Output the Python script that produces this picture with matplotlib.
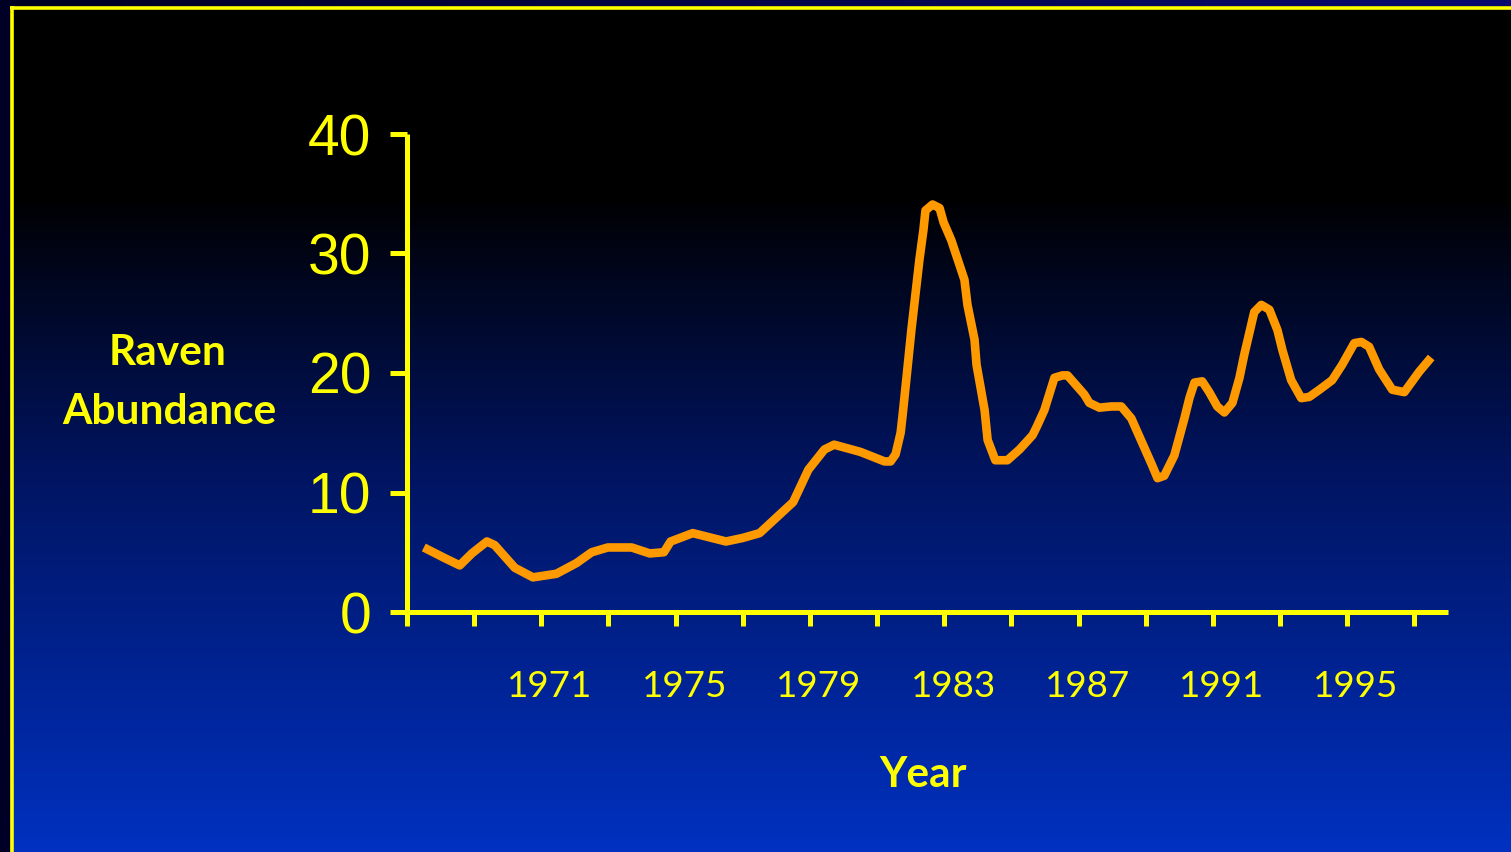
import numpy as np
import matplotlib
matplotlib.use("Agg")
import matplotlib.pyplot as plt
import matplotlib.transforms as mtransforms
from matplotlib.colors import LinearSegmentedColormap

# ---- data ----
years = [1967.0, 1967.63, 1968.07, 1968.43, 1968.88, 1969.11, 1969.71, 1970.25, 1970.95,
         1971.55, 1972.0, 1972.48, 1973.19, 1973.73, 1974.15, 1974.35, 1975.01, 1976.0,
         1976.5, 1977.0, 1978.0, 1978.45, 1978.93, 1979.22, 1980.0, 1980.72, 1980.9,
         1981.05, 1981.2, 1981.26, 1981.4, 1981.52, 1981.76, 1981.88, 1981.94, 1982.15,
         1982.36, 1982.48, 1982.71, 1983.1, 1983.19, 1983.4, 1983.46, 1983.7, 1983.79,
         1984.02, 1984.38, 1984.74, 1985.13, 1985.27, 1985.48, 1985.78, 1986.02, 1986.17,
         1986.67, 1986.82, 1987.12, 1987.48, 1987.77, 1988.07, 1988.37, 1988.67, 1988.85,
         1989.05, 1989.35, 1989.65, 1989.8, 1989.95, 1990.18, 1990.39, 1990.63, 1990.84,
         1991.08, 1991.29, 1991.43, 1991.73, 1991.94, 1992.18, 1992.42, 1992.57, 1992.83,
         1993.13, 1993.37, 1993.67, 1994.05, 1994.35, 1994.71, 1994.92, 1995.15, 1995.45,
         1995.84, 1996.2, 1996.64, 1997.0]
abundance = [5.4, 4.5, 3.9, 4.9, 5.9, 5.6, 3.7, 2.9, 3.2,
             4.1, 5.0, 5.4, 5.4, 4.9, 5.0, 5.9, 6.6, 5.9,
             6.2, 6.6, 9.2, 11.9, 13.6, 14.0, 13.4, 12.6, 12.6,
             13.2, 15.0, 16.5, 20.3, 23.6, 29.5, 32.0, 33.6, 34.1,
             33.8, 32.6, 31.1, 27.8, 25.7, 22.8, 20.7, 16.9, 14.4,
             12.7, 12.7, 13.6, 14.8, 15.6, 16.9, 19.6, 19.8, 19.8,
             18.2, 17.5, 17.1, 17.2, 17.2, 16.2, 14.3, 12.4, 11.2,
             11.4, 13.1, 16.2, 17.9, 19.2, 19.3, 18.4, 17.2, 16.7,
             17.5, 19.6, 21.5, 25.1, 25.7, 25.3, 23.6, 21.9, 19.4,
             17.9, 18.0, 18.6, 19.4, 20.7, 22.5, 22.6, 22.2, 20.3,
             18.6, 18.4, 20.1, 21.3]

y_ticks = [0, 10, 20, 30, 40]
x_tick_marks = list(np.arange(1966.5, 1997.0, 2.0))
x_labels = [1971, 1975, 1979, 1983, 1987, 1991, 1995]

YELLOW = "#FFFF00"
ORANGE = "#FF9900"

W, H = 1511, 852
fig = plt.figure(figsize=(W / 100, H / 100), dpi=100)
fig.patch.set_facecolor("#000026")

# ---- background (pixel coordinate axes) ----
bg = fig.add_axes([0, 0, 1, 1], zorder=0)
bg.set_xlim(0, W)
bg.set_ylim(H, 0)
bg.axis("off")
strip = np.linspace(0, 1, 256).reshape(1, -1)
cm_strip = LinearSegmentedColormap.from_list("s", ["#000022", "#0a0a6e"])
bg.imshow(strip, cmap=cm_strip, extent=[0, W, 6, 0], aspect="auto", zorder=0)
ys = np.linspace(0, 1, 512).reshape(-1, 1)
cm_bg = LinearSegmentedColormap.from_list(
    "g", [(0.0, "#000000"), (0.22, "#000000"), (0.55, "#001460"), (1.0, "#0031C0")])
bg.imshow(ys, cmap=cm_bg, extent=[10, W, H, 6], aspect="auto", zorder=1)
bg.plot([11.5, 11.5], [6, H], color=YELLOW, lw=2.6, zorder=2, solid_capstyle="butt")
bg.plot([10, W], [7.5, 7.5], color=YELLOW, lw=2.6, zorder=2, solid_capstyle="butt")

# ---- chart axes ----
left, right, bottom, top = 407, 1448, 612, 134
ax = fig.add_axes([left / W, (H - bottom) / H, (right - left) / W, (bottom - top) / H], zorder=2)
ax.patch.set_alpha(0)
ax.plot(years, abundance, color=ORANGE, lw=6.2, solid_joinstyle="round",
        solid_capstyle="butt", zorder=3, clip_on=False)

ax.set_xlim(1966.5, 1997.5)
ax.set_ylim(0, 40)
for s in ["top", "right"]:
    ax.spines[s].set_visible(False)
for s in ["left", "bottom"]:
    ax.spines[s].set_color(YELLOW)
    ax.spines[s].set_linewidth(3.6)
    ax.spines[s].set_capstyle("butt")

ax.set_yticks(y_ticks)
ax.set_yticklabels([str(v) for v in y_ticks], fontfamily="Liberation Sans",
                   fontsize=41, color=YELLOW)
ax.tick_params(axis="y", which="major", length=12.5, width=3.6, color=YELLOW, pad=13)

ax.set_xticks(x_tick_marks)
ax.set_xticklabels([])
ax.tick_params(axis="x", which="major", length=10, width=3.6, color=YELLOW)
ax.set_xticks(x_labels, minor=True)
ax.set_xticklabels([str(v) for v in x_labels], minor=True, fontfamily="Lato",
                   fontsize=26.5, color=YELLOW)
ax.tick_params(axis="x", which="minor", length=0, pad=42)
offset = mtransforms.ScaledTranslation(-8 / 100, 0, fig.dpi_scale_trans)
for lbl in ax.xaxis.get_minorticklabels():
    lbl.set_transform(lbl.get_transform() + offset)

# ---- axis titles ----
fig.text(168 / W, 1 - 353 / H, "Raven", fontfamily="Lato", fontweight="bold",
         fontsize=30.5, color=YELLOW, ha="center", va="center")
fig.text(169 / W, 1 - 412 / H, "Abundance", fontfamily="Lato", fontweight="bold",
         fontsize=30.5, color=YELLOW, ha="center", va="center")
fig.text(923 / W, 1 - 775 / H, "Year", fontfamily="Lato", fontweight="bold",
         fontsize=30.5, color=YELLOW, ha="center", va="center")

fig.savefig("out.png", dpi=100, facecolor=fig.get_facecolor())
